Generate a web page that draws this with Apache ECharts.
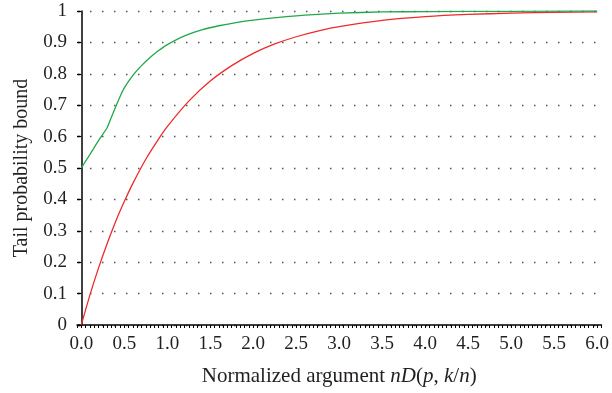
<!DOCTYPE html>
<html>
<head>
<meta charset="utf-8">
<script src="https://cdn.jsdelivr.net/npm/echarts@6/dist/echarts.min.js"></script>
<style>
html,body{margin:0;padding:0;background:#fff;}
#c{width:612px;height:393px;}
</style>
</head>
<body>
<div id="c"></div>
<script>
// Tick labels
var xTickLabels = [0.0, 0.5, 1.0, 1.5, 2.0, 2.5, 3.0, 3.5, 4.0, 4.5, 5.0, 5.5, 6.0];
var yTickLabels = [0, 0.1, 0.2, 0.3, 0.4, 0.5, 0.6, 0.7, 0.8, 0.9, 1];

// Red curve
var redX = [0, 0.1, 0.2, 0.3, 0.4, 0.5, 0.6, 0.75, 0.9, 1.0, 1.25, 1.5, 1.75, 2.0, 2.25, 2.5, 2.75, 3.0, 3.5, 4.0, 4.5, 5.0, 5.5, 6.0];
var redY = [0, 0.095, 0.181, 0.259, 0.330, 0.393, 0.451, 0.528, 0.593, 0.632, 0.713, 0.777, 0.826, 0.865, 0.895, 0.918, 0.936, 0.950, 0.970, 0.982, 0.989, 0.993, 0.996, 0.997];

// Green curve
var greenX = [0, 0.1, 0.2, 0.3, 0.35, 0.4, 0.45, 0.5, 0.6, 0.7, 0.8, 0.9, 1.0, 1.2, 1.4, 1.6, 1.8, 2.0, 2.3, 2.6, 3.0, 3.5, 4.0, 5.0, 6.0];
var greenY = [0.5, 0.543, 0.587, 0.628, 0.662, 0.695, 0.727, 0.755, 0.795, 0.826, 0.852, 0.874, 0.893, 0.921, 0.940, 0.953, 0.963, 0.971, 0.980, 0.987, 0.993, 0.997, 0.998, 0.999, 1.0];

function pairs(xs, ys) { return xs.map(function (x, i) { return [x, ys[i]]; }); }

var minorTicks = [];
for (var i = -1; i <= 121; i++) minorTicks.push(Math.round(i * 5) / 100);

var font = 'Liberation Serif';
var chart = echarts.init(document.getElementById('c'), null, {renderer: 'canvas'});
chart.setOption({
  animation: false,
  backgroundColor: '#fff',
  grid: {left: 77, right: 9, top: 11, bottom: 68, containLabel: false},
  xAxis: {
    type: 'value', min: -0.05, max: 6.05,
    name: 'Normalized argument {i|nD}({i|p}, {i|k}/{i|n})',
    nameLocation: 'middle', nameGap: 41,
    nameTextStyle: {fontFamily: font, fontSize: 21, color: '#231f20',
      rich: {i: {fontFamily: font, fontStyle: 'italic', fontSize: 21, color: '#231f20'}}},
    axisLine: {show: true, lineStyle: {color: '#000', width: 1.5}},
    axisTick: {show: true, customValues: minorTicks, length: 3, lineStyle: {color: '#000', width: 1}},
    axisLabel: {customValues: xTickLabels, formatter: function (v) { return v.toFixed(1); },
      fontFamily: font, fontSize: 19, color: '#231f20', margin: 10},
    splitLine: {show: false}
  },
  yAxis: [{
    type: 'value', min: 0, max: 1,
    name: 'Tail probability bound', nameLocation: 'middle', nameGap: 45,
    nameTextStyle: {fontFamily: font, fontSize: 20, color: '#231f20'},
    axisLine: {show: true, lineStyle: {color: '#000', width: 1.5}},
    axisTick: {show: true, customValues: yTickLabels, length: 4, lineStyle: {color: '#000', width: 1.2}},
    axisLabel: {customValues: yTickLabels, fontFamily: font, fontSize: 19, color: '#231f20', margin: 10},
    splitLine: {show: true, lineStyle: {color: '#555', width: 1.3, type: [1.5, 10.5], dashOffset: -1}}
  }, {
    type: 'value', min: 0, max: 1, position: 'left', offset: 0,
    axisLine: {show: false},
    axisTick: {show: true, inside: true, customValues: yTickLabels, length: 3, lineStyle: {color: '#000', width: 1.2}},
    axisLabel: {show: false},
    splitLine: {show: false}
  }],
  series: [{
    type: 'line', data: pairs(redX, redY), showSymbol: false, smooth: 0.25,
    lineStyle: {color: '#ee2a2a', width: 1.3}, yAxisIndex: 0, z: 3
  }, {
    type: 'line', data: pairs(greenX, greenY), showSymbol: false, smooth: 0.2,
    lineStyle: {color: '#22a84a', width: 1.3}, yAxisIndex: 0, z: 4
  }]
});
</script>
</body>
</html>
